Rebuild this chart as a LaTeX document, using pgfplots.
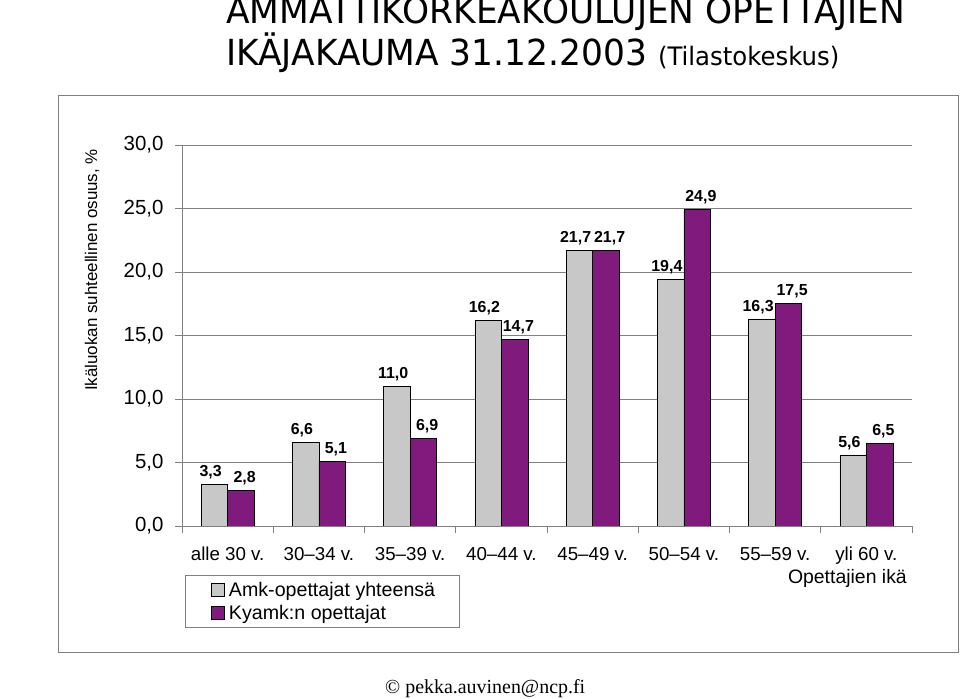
\documentclass[border=0pt]{standalone}
\usepackage{fontspec}
\setmainfont{Liberation Sans}
\newfontfamily\titlefont[FakeStretch=0.96]{DejaVu Sans}
\newfontfamily\seriffont{Liberation Serif}
\usepackage{pgfplots}
\pgfplotsset{compat=1.18}
\definecolor{amkgray}{RGB}{200,200,200}
\definecolor{kyamk}{RGB}{128,26,124}
\definecolor{gridgray}{RGB}{128,128,128}
\pgfplotsset{/pgf/number format/.cd, use comma, fixed, fixed zerofill, precision=1, assume math mode=true}
\begin{document}
\begin{tikzpicture}[x=1bp,y=1bp]
\path[use as bounding box] (0,0) rectangle (960,699);
\draw[gridgray, line width=0.8bp] (58,47) rectangle (958,604);
\node[anchor=base west, inner sep=0] at (226,675) {\titlefont\fontsize{36}{40}\selectfont AMMATTIKORKEAKOULUJEN OPETTAJIEN};
\node[anchor=base west, inner sep=0] at (226,633) {\titlefont\fontsize{36}{40}\selectfont IKÄJAKAUMA 31.12.2003 {\fontsize{25.5}{30}\selectfont(Tilastokeskus)}};
\node[rotate=90, inner sep=0] at (92,429) {\fontsize{17}{20}\selectfont Ikäluokan suhteellinen osuus, \%};
\node[anchor=base east, inner sep=0] at (907,115) {\fontsize{19.5}{22}\selectfont Opettajien ikä};
\node[anchor=base west, inner sep=0] at (385,5) {\seriffont\fontsize{20}{24}\selectfont © pekka.auvinen@ncp.fi};
\begin{axis}[
  at={(182bp,173bp)}, anchor=south west, scale only axis,
  width=730bp, height=381bp,
  xmin=-0.5, xmax=7.5, ymin=0, ymax=30,
  axis x line=bottom, axis y line=left,
  axis line style={-, gridgray, line width=0.8bp},
  ytick={0,5,...,30}, ymajorgrids,
  grid style={gridgray, line width=0.6bp},
  yticklabel style={font=\fontsize{20.5}{24}\selectfont, xshift=-8bp},
  xtick={0,...,7},
  xticklabels={alle 30 v., 30--34 v., 35--39 v., 40--44 v., 45--49 v., 50--54 v., 55--59 v., yli 60 v.},
  xticklabel style={font=\fontsize{18.8}{22}\selectfont, text height=13bp, text depth=4bp, yshift=-11bp},
  major x tick style={draw=none},
  minor xtick={-0.5,0.5,...,7.5},
  tick align=outside, major tick length=7bp, minor tick length=7bp,
  tick style={gridgray, line width=0.8bp},
  legend style={at={(axis description cs:0,0)}, anchor=north west, xshift=3bp, yshift=-49bp,
    draw=gridgray, line width=0.8bp, font=\fontsize{19.7}{22}\selectfont, legend cell align=left,
    inner xsep=22bp, inner ysep=5bp, row sep=3bp},
  nodes near coords,
  every node near coord/.append style={font=\bfseries\fontsize{16}{18}\selectfont, inner sep=2bp, yshift=3bp},
]
\addplot[ybar, bar width=26.5bp, bar shift=-13.25bp, fill=amkgray, draw=black, line width=0.6bp,
  every node near coord/.append style={xshift=-17bp},
  legend image code/.code={\path (-4bp,0bp) (15bp,0bp); \draw[fill=amkgray, draw=black, line width=0.5bp] (0bp,-6.5bp) rectangle (13bp,6.5bp);}]
  coordinates {(0,3.3)(1,6.6)(2,11.0)(3,16.2)(4,21.7)(5,19.4)(6,16.3)(7,5.6)};
\addlegendentry{Amk-opettajat yhteensä}
\addplot[ybar, bar width=26.5bp, bar shift=13.25bp, fill=kyamk, draw=black, line width=0.6bp,
  every node near coord/.append style={xshift=17bp},
  legend image code/.code={\path (-4bp,0bp) (15bp,0bp); \draw[fill=kyamk, draw=black, line width=0.5bp] (0bp,-6.5bp) rectangle (13bp,6.5bp);}]
  coordinates {(0,2.8)(1,5.1)(2,6.9)(3,14.7)(4,21.7)(5,24.9)(6,17.5)(7,6.5)};
\addlegendentry{Kyamk:n opettajat}
\end{axis}
\end{tikzpicture}
\end{document}
